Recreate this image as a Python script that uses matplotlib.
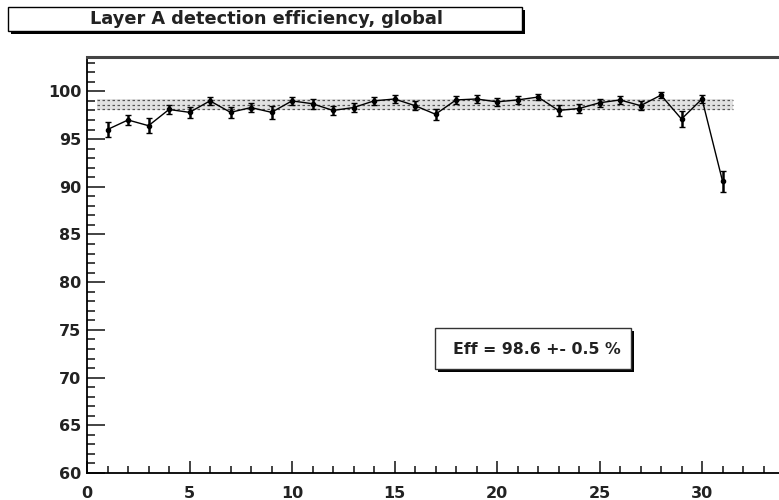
import numpy as np
import matplotlib.pyplot as plt
from matplotlib.patches import Rectangle
from matplotlib.ticker import MultipleLocator

chan = list(range(1, 32))
eff = [96.0, 97.0, 96.4, 98.1, 97.8, 99.0, 97.8, 98.3, 97.8, 99.0,
       98.7, 98.0, 98.3, 99.0, 99.2, 98.5, 97.6, 99.1, 99.2, 98.9,
       99.1, 99.4, 98.0, 98.2, 98.8, 99.1, 98.5, 99.6, 97.1, 99.2,
       90.6]
err = [0.8, 0.5, 0.8, 0.5, 0.6, 0.4, 0.6, 0.5, 0.7, 0.4,
       0.5, 0.5, 0.5, 0.4, 0.4, 0.5, 0.6, 0.4, 0.4, 0.4,
       0.4, 0.3, 0.6, 0.5, 0.4, 0.4, 0.5, 0.3, 0.8, 0.4,
       1.1]
mean_eff = 98.6
mean_err = 0.5
title = 'Layer A detection efficiency, global'
stat_text = 'Eff = 98.6 +- 0.5 %'

plt.rcParams['font.family'] = 'DejaVu Sans'
plt.rcParams['font.weight'] = 'bold'

fig = plt.figure(figsize=(7.79, 5.0), dpi=100)
ax = fig.add_axes([87 / 779, 27 / 500, 697 / 779, 416 / 500])

# fitted mean band
lo, hi = mean_eff - mean_err, mean_eff + mean_err
ax.fill_between([0.5, 31.5], lo - 0.1, hi + 0.1, facecolor='#e2e2e2',
                edgecolor='none', zorder=1)
for yv in (lo, mean_eff, hi):
    ax.plot([0.5, 31.5], [yv, yv], ls=(0, (2, 2)), color='#555555', lw=0.9,
            zorder=2)

ax.errorbar(chan, eff, yerr=err, fmt='o-', color='black', ms=3, lw=1,
            elinewidth=1.8, capsize=2, capthick=1, zorder=3)

ax.set_xlim(0, 34)
ax.set_ylim(60, 103.6)
ax.xaxis.set_major_locator(MultipleLocator(5))
ax.xaxis.set_minor_locator(MultipleLocator(1))
ax.yaxis.set_major_locator(MultipleLocator(5))
ax.yaxis.set_minor_locator(MultipleLocator(1))
ax.tick_params(which='both', direction='in', top=False, right=False,
               labelsize=11.5, width=1.2, colors='#222222')
ax.tick_params(axis='y', which='major', length=13, pad=4)
ax.tick_params(axis='y', which='minor', length=6)
ax.tick_params(axis='x', which='major', length=9, pad=9)
ax.tick_params(axis='x', which='minor', length=5)
for lab in ax.get_xticklabels() + ax.get_yticklabels():
    lab.set_fontweight('bold')
for s in ax.spines.values():
    s.set_linewidth(1.3)
ax.spines['top'].set_linewidth(2.2)
ax.spines['top'].set_color('#444444')

# title box with shadow
fig.patches.append(Rectangle((11 / 779, 1 - 34 / 500), 514 / 779, 24 / 500,
                             transform=fig.transFigure, facecolor='black',
                             edgecolor='none'))
fig.patches.append(Rectangle((8 / 779, 1 - 31 / 500), 514 / 779, 24 / 500,
                             transform=fig.transFigure, facecolor='white',
                             edgecolor='black', lw=1))
fig.text(266 / 779, 1 - 19 / 500, title, ha='center', va='center',
         fontsize=12.8, fontweight='bold', color='#222222')

# stats box with shadow
fig.patches.append(Rectangle((438 / 779, 1 - 372 / 500), 196 / 779, 41 / 500,
                             transform=fig.transFigure, facecolor='black',
                             edgecolor='none', zorder=5))
fig.patches.append(Rectangle((435 / 779, 1 - 369 / 500), 196 / 779, 41 / 500,
                             transform=fig.transFigure, facecolor='white',
                             edgecolor='#333333', lw=1, zorder=6))
fig.text(537 / 779, 1 - 349 / 500, stat_text, ha='center', va='center',
         fontsize=11.3, fontweight='bold', color='#222222', zorder=7)

fig.savefig('out.png', dpi=100)
